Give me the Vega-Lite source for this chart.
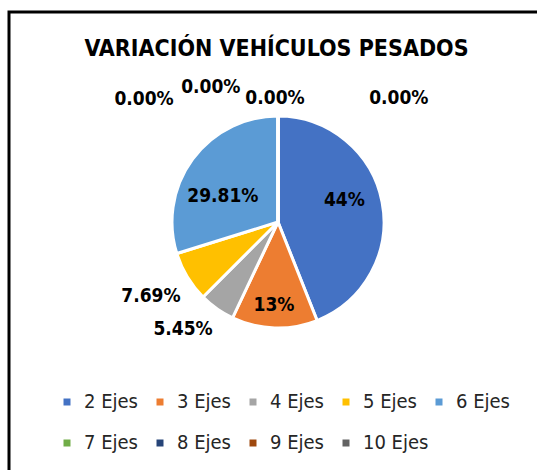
{
  "$schema": "https://vega.github.io/schema/vega-lite/v6.json",
  "autosize": "none",
  "width": 538,
  "height": 470,
  "padding": {"left": 9, "top": 12, "right": 0, "bottom": 0},
  "background": "white",
  "title": {
    "text": "VARIACIÓN VEHÍCULOS PESADOS",
    "font": "DejaVu Sans Condensed",
    "fontSize": 23,
    "fontWeight": "bold",
    "color": "#000000",
    "anchor": "middle",
    "frame": "group",
    "baseline": "alphabetic",
    "offset": -67,
    "dx": -1.5
  },
  "data": {
    "values": [
      {"eje": "2 Ejes", "n": 2, "pct": 43.99, "etiqueta": "44%"},
      {"eje": "3 Ejes", "n": 3, "pct": 13.06, "etiqueta": "13%"},
      {"eje": "4 Ejes", "n": 4, "pct": 5.45, "etiqueta": "5.45%"},
      {"eje": "5 Ejes", "n": 5, "pct": 7.69, "etiqueta": "7.69%"},
      {"eje": "6 Ejes", "n": 6, "pct": 29.81, "etiqueta": "29.81%"},
      {"eje": "7 Ejes", "n": 7, "pct": 0, "etiqueta": "0.00%"},
      {"eje": "8 Ejes", "n": 8, "pct": 0, "etiqueta": "0.00%"},
      {"eje": "9 Ejes", "n": 9, "pct": 0, "etiqueta": "0.00%"},
      {"eje": "10 Ejes", "n": 10, "pct": 0, "etiqueta": "0.00%"}
    ]
  },
  "encoding": {
    "theta": {"field": "pct", "type": "quantitative", "stack": true},
    "order": {"field": "n", "type": "quantitative"}
  },
  "layer": [
    {
      "mark": {"type": "arc", "outerRadius": 106, "stroke": "white", "strokeWidth": 3, "yOffset": -25},
      "encoding": {
        "color": {
          "field": "eje",
          "type": "nominal",
          "scale": {
            "domain": ["2 Ejes", "3 Ejes", "4 Ejes", "5 Ejes", "6 Ejes", "7 Ejes", "8 Ejes", "9 Ejes", "10 Ejes"],
            "range": ["#4472C4", "#ED7D31", "#A5A5A5", "#FFC000", "#5B9BD5", "#70AD47", "#264478", "#9E480E", "#636363"]
          },
          "legend": {
            "title": null,
            "orient": "none",
            "legendX": 48,
            "legendY": 380,
            "direction": "horizontal",
            "columns": 5,
            "gridAlign": "all",
            "columnPadding": 0,
            "rowPadding": 21,
            "symbolType": "square",
            "symbolSize": 49,
            "symbolStrokeWidth": 0,
            "labelFont": "DejaVu Sans Condensed",
            "labelFontSize": 20,
            "labelColor": "#262626",
            "labelOffset": 7,
            "padding": 0
          }
        }
      }
    },
    {
      "mark": {"type": "text", "radius": 70, "thetaOffset": -0.133, "yOffset": -25, "font": "DejaVu Sans Condensed", "fontSize": 19, "fontWeight": "bold", "color": "#000000", "align": "center", "baseline": "middle"},
      "encoding": {"text": {"condition": {"test": "datum.eje == '2 Ejes'", "field": "etiqueta"}, "value": ""}}
    },
    {
      "mark": {"type": "text", "radius": 83, "thetaOffset": 0.016, "yOffset": -25, "font": "DejaVu Sans Condensed", "fontSize": 19, "fontWeight": "bold", "color": "#000000", "align": "center", "baseline": "middle"},
      "encoding": {"text": {"condition": {"test": "datum.eje == '3 Ejes'", "field": "etiqueta"}, "value": ""}}
    },
    {
      "mark": {"type": "text", "radius": 143, "thetaOffset": 0.112, "yOffset": -25, "font": "DejaVu Sans Condensed", "fontSize": 19, "fontWeight": "bold", "color": "#000000", "align": "center", "baseline": "middle"},
      "encoding": {"text": {"condition": {"test": "datum.eje == '4 Ejes'", "field": "etiqueta"}, "value": ""}}
    },
    {
      "mark": {"type": "text", "radius": 147, "thetaOffset": 0.017, "yOffset": -25, "font": "DejaVu Sans Condensed", "fontSize": 19, "fontWeight": "bold", "color": "#000000", "align": "center", "baseline": "middle"},
      "encoding": {"text": {"condition": {"test": "datum.eje == '5 Ejes'", "field": "etiqueta"}, "value": ""}}
    },
    {
      "mark": {"type": "text", "radius": 61, "thetaOffset": -0.192, "yOffset": -25, "font": "DejaVu Sans Condensed", "fontSize": 19, "fontWeight": "bold", "color": "#000000", "align": "center", "baseline": "middle"},
      "encoding": {"text": {"condition": {"test": "datum.eje == '6 Ejes'", "field": "etiqueta"}, "value": ""}}
    },
    {
      "mark": {"type": "text", "radius": 182, "thetaOffset": -0.827, "yOffset": -25, "font": "DejaVu Sans Condensed", "fontSize": 19, "fontWeight": "bold", "color": "#000000", "align": "center", "baseline": "middle"},
      "encoding": {"text": {"condition": {"test": "datum.eje == '7 Ejes'", "field": "etiqueta"}, "value": ""}}
    },
    {
      "mark": {"type": "text", "radius": 151, "thetaOffset": -0.461, "yOffset": -25, "font": "DejaVu Sans Condensed", "fontSize": 19, "fontWeight": "bold", "color": "#000000", "align": "center", "baseline": "middle"},
      "encoding": {"text": {"condition": {"test": "datum.eje == '8 Ejes'", "field": "etiqueta"}, "value": ""}}
    },
    {
      "mark": {"type": "text", "radius": 124, "thetaOffset": -0.024, "yOffset": -25, "font": "DejaVu Sans Condensed", "fontSize": 19, "fontWeight": "bold", "color": "#000000", "align": "center", "baseline": "middle"},
      "encoding": {"text": {"condition": {"test": "datum.eje == '9 Ejes'", "field": "etiqueta"}, "value": ""}}
    },
    {
      "mark": {"type": "text", "radius": 173, "thetaOffset": 0.773, "yOffset": -25, "font": "DejaVu Sans Condensed", "fontSize": 19, "fontWeight": "bold", "color": "#000000", "align": "center", "baseline": "middle"},
      "encoding": {"text": {"condition": {"test": "datum.eje == '10 Ejes'", "field": "etiqueta"}, "value": ""}}
    }
  ],
  "config": {
    "view": {"stroke": "#000000", "strokeWidth": 3, "fill": "white"},
    "style": {"view": {"stroke": "#000000", "strokeWidth": 3, "fill": "white"}}
  }
}
